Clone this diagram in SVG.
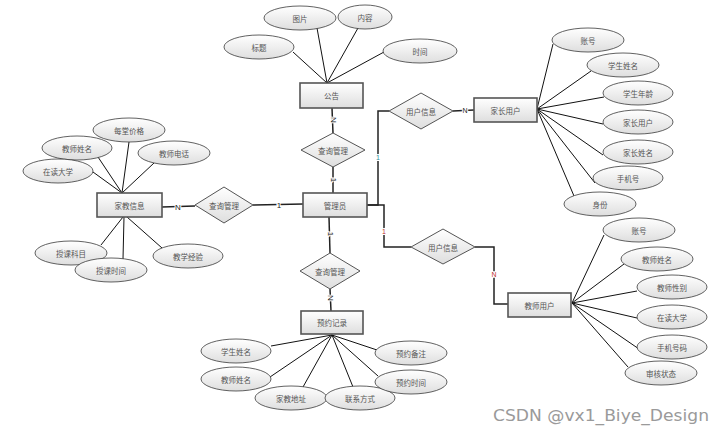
<svg xmlns="http://www.w3.org/2000/svg" width="724" height="440" viewBox="0 0 724 440">
<defs>
<linearGradient id="g" x1="0" y1="0" x2="0" y2="1">
<stop offset="0" stop-color="#ffffff"/>
<stop offset="1" stop-color="#dedede"/>
</linearGradient>
<style>
.e{fill:url(#g);stroke:#3a3a3a;stroke-width:0.8}
.r{fill:url(#g);stroke:#555;stroke-width:1.6}
.d{fill:url(#g);stroke:#555;stroke-width:1}
.t{font-family:"Noto Sans CJK SC","Noto Sans",sans-serif;font-size:7.5px;fill:#555;text-anchor:middle;dominant-baseline:central}
.a{stroke:#111;stroke-width:1;fill:none}
.c{stroke:#222;stroke-width:1.5;fill:none}
.l{font-family:"Liberation Sans",sans-serif;font-size:8px;fill:#222;text-anchor:middle;dominant-baseline:central;stroke:#fff;stroke-width:2;paint-order:stroke}
.wm{font-family:"DejaVu Sans","Liberation Sans",sans-serif;font-size:15px;fill:#9a9a9a}
</style>
</defs>
<rect width="724" height="440" fill="#fff"/>

<g id="connectors">
<!-- 公告 attributes -->
<line class="a" x1="327" y1="83" x2="293" y2="52"/>
<line class="a" x1="327" y1="83" x2="317" y2="28"/>
<line class="a" x1="327" y1="83" x2="358" y2="28"/>
<line class="a" x1="327" y1="83" x2="384" y2="52"/>
<!-- 家教信息 attributes -->
<line class="a" x1="122" y1="193" x2="129" y2="142"/>
<line class="a" x1="122" y1="193" x2="98" y2="157"/>
<line class="a" x1="122" y1="193" x2="154" y2="163"/>
<line class="a" x1="122" y1="193" x2="93" y2="172"/>
<line class="a" x1="123" y1="217" x2="101" y2="245"/>
<line class="a" x1="124" y1="217" x2="123" y2="259"/>
<line class="a" x1="127" y1="217" x2="162" y2="248"/>
<!-- 家长用户 attributes -->
<line class="a" x1="537" y1="109" x2="553" y2="44"/>
<line class="a" x1="537" y1="109" x2="591" y2="71"/>
<line class="a" x1="537" y1="109" x2="604" y2="97"/>
<line class="a" x1="537" y1="109" x2="603" y2="124"/>
<line class="a" x1="537" y1="109" x2="603" y2="155"/>
<line class="a" x1="537" y1="109" x2="595" y2="183"/>
<line class="a" x1="537" y1="109" x2="574" y2="196"/>
<!-- 教师用户 attributes -->
<line class="a" x1="572" y1="303" x2="604" y2="235"/>
<line class="a" x1="572" y1="303" x2="624" y2="264"/>
<line class="a" x1="572" y1="303" x2="637" y2="291"/>
<line class="a" x1="572" y1="303" x2="637" y2="318"/>
<line class="a" x1="572" y1="303" x2="639" y2="349"/>
<line class="a" x1="572" y1="303" x2="628" y2="367"/>
<!-- 预约记录 attributes -->
<line class="a" x1="332" y1="335" x2="271" y2="346"/>
<line class="a" x1="332" y1="335" x2="270" y2="377"/>
<line class="a" x1="332" y1="335" x2="303" y2="387"/>
<line class="a" x1="332" y1="335" x2="353" y2="387"/>
<line class="a" x1="332" y1="335" x2="377" y2="350"/>
<line class="a" x1="332" y1="335" x2="378" y2="376"/>
<!-- relationships -->
<line class="c" x1="332" y1="108" x2="333" y2="133"/>
<line class="c" x1="333" y1="167" x2="333" y2="193"/>
<line class="c" x1="162" y1="207" x2="195" y2="206"/>
<line class="c" x1="253" y1="205" x2="303" y2="204"/>
<line class="c" x1="329" y1="217" x2="330" y2="253"/>
<line class="c" x1="330" y1="289" x2="331" y2="311"/>
<polyline class="c" points="367,205 378,205 378,111 389,111"/>
<line class="c" x1="453" y1="111" x2="474" y2="110"/>
<polyline class="c" points="367,205 384,205 384,247 411,247"/>
<polyline class="c" points="475,247 494,247 494,304 508,304"/>
<!-- cardinality labels -->
<text class="l" transform="translate(333,120) rotate(90)">N</text>
<text class="l" transform="translate(333,180) rotate(90)">1</text>
<text class="l" x="178" y="207">N</text>
<text class="l" x="279" y="205">1</text>
<text class="l" transform="translate(330,234) rotate(90)">1</text>
<text class="l" transform="translate(330,298) rotate(90)">N</text>
<text class="l" x="378" y="157" style="fill:#2a8a9a;font-size:7px">1</text>
<text class="l" x="465" y="110" style="font-size:7px">N</text>
<text class="l" x="384" y="231" style="fill:#c03030;font-size:7px">1</text>
<text class="l" x="494" y="274" style="fill:#c03030;font-size:7px">N</text>
</g>

<g id="gonggao"><rect class="r" x="300" y="83" width="63" height="25"/><text class="t" x="331.5" y="95.5">公告</text></g>
<g id="gg-tupian"><ellipse class="e" cx="300" cy="18" rx="36" ry="12"/><text class="t" x="300" y="18">图片</text></g>
<g id="gg-neirong"><ellipse class="e" cx="365" cy="17" rx="27" ry="12"/><text class="t" x="365" y="17">内容</text></g>
<g id="gg-biaoti"><ellipse class="e" cx="259" cy="47" rx="35" ry="12"/><text class="t" x="259" y="47">标题</text></g>
<g id="gg-shijian"><ellipse class="e" cx="420" cy="51" rx="37" ry="12"/><text class="t" x="420" y="51">时间</text></g>

<g id="rel-gg"><polygon class="d" points="301,150 333,133 365,150 333,167"/><text class="t" x="333" y="150">查询管理</text></g>

<g id="guanliyuan"><rect class="r" x="303" y="193" width="64" height="24"/><text class="t" x="335" y="205">管理员</text></g>

<g id="jiajiaoxinxi"><rect class="r" x="97" y="193" width="65" height="24"/><text class="t" x="129.5" y="205">家教信息</text></g>
<g id="jj-jiage"><ellipse class="e" cx="129" cy="130" rx="36" ry="12"/><text class="t" x="129" y="130">每堂价格</text></g>
<g id="jj-xingming"><ellipse class="e" cx="77" cy="148" rx="35" ry="12"/><text class="t" x="77" y="148">教师姓名</text></g>
<g id="jj-dianhua"><ellipse class="e" cx="174" cy="153" rx="36" ry="12"/><text class="t" x="174" y="153">教师电话</text></g>
<g id="jj-daxue"><ellipse class="e" cx="58" cy="171" rx="35" ry="12"/><text class="t" x="58" y="171">在读大学</text></g>
<g id="jj-kemu"><ellipse class="e" cx="71" cy="253" rx="36" ry="12"/><text class="t" x="71" y="253">授课科目</text></g>
<g id="jj-shijian"><ellipse class="e" cx="111" cy="270" rx="36" ry="12"/><text class="t" x="111" y="270">授课时间</text></g>
<g id="jj-jingyan"><ellipse class="e" cx="188" cy="256" rx="35" ry="12"/><text class="t" x="188" y="256">教学经验</text></g>

<g id="rel-jj"><polygon class="d" points="195,205 224,187 253,205 224,223"/><text class="t" x="224" y="205">查询管理</text></g>

<g id="rel-yy"><polygon class="d" points="300,271 330,253 360,271 330,289"/><text class="t" x="330" y="271">查询管理</text></g>

<g id="yuyuejilu"><rect class="r" x="301" y="311" width="62" height="23"/><text class="t" x="332" y="322.5">预约记录</text></g>
<g id="yy-xuesheng"><ellipse class="e" cx="236" cy="351" rx="35" ry="12"/><text class="t" x="236" y="351">学生姓名</text></g>
<g id="yy-jiaoshi"><ellipse class="e" cx="236" cy="379" rx="35" ry="12"/><text class="t" x="236" y="379">教师姓名</text></g>
<g id="yy-dizhi"><ellipse class="e" cx="291" cy="398" rx="36" ry="12"/><text class="t" x="291" y="398">家教地址</text></g>
<g id="yy-lianxi"><ellipse class="e" cx="360" cy="398" rx="35" ry="12"/><text class="t" x="360" y="398">联系方式</text></g>
<g id="yy-beizhu"><ellipse class="e" cx="411" cy="353" rx="36" ry="12"/><text class="t" x="411" y="353">预约备注</text></g>
<g id="yy-shijian"><ellipse class="e" cx="411" cy="382" rx="36" ry="12"/><text class="t" x="411" y="382">预约时间</text></g>

<g id="rel-jz"><polygon class="d" points="389,111 421,93 453,111 421,129"/><text class="t" x="421" y="111">用户信息</text></g>

<g id="jiazhangyonghu"><rect class="r" x="474" y="98" width="63" height="24"/><text class="t" x="505.5" y="110">家长用户</text></g>
<g id="jz-zhanghao"><ellipse class="e" cx="588" cy="40" rx="36" ry="12"/><text class="t" x="588" y="40">账号</text></g>
<g id="jz-xsxm"><ellipse class="e" cx="623" cy="65" rx="36" ry="12"/><text class="t" x="623" y="65">学生姓名</text></g>
<g id="jz-xsnl"><ellipse class="e" cx="638" cy="93" rx="35" ry="12"/><text class="t" x="638" y="93">学生年龄</text></g>
<g id="jz-jzyh"><ellipse class="e" cx="638" cy="122" rx="35" ry="12"/><text class="t" x="638" y="122">家长用户</text></g>
<g id="jz-jzxm"><ellipse class="e" cx="638" cy="152" rx="35" ry="12"/><text class="t" x="638" y="152">家长姓名</text></g>
<g id="jz-sjh"><ellipse class="e" cx="628" cy="178" rx="35" ry="12"/><text class="t" x="628" y="178">手机号</text></g>
<g id="jz-shenfen"><ellipse class="e" cx="600" cy="204" rx="36" ry="12"/><text class="t" x="600" y="204">身份</text></g>

<g id="rel-js"><polygon class="d" points="411,247 443,229 475,247 443,264"/><text class="t" x="443" y="247">用户信息</text></g>

<g id="jiaoshiyonghu"><rect class="r" x="508" y="293" width="63" height="24"/><text class="t" x="539.5" y="305">教师用户</text></g>
<g id="js-zhanghao"><ellipse class="e" cx="639" cy="230" rx="36" ry="12"/><text class="t" x="639" y="230">账号</text></g>
<g id="js-xingming"><ellipse class="e" cx="657" cy="259" rx="36" ry="12"/><text class="t" x="657" y="259">教师姓名</text></g>
<g id="js-xingbie"><ellipse class="e" cx="672" cy="287" rx="35" ry="12"/><text class="t" x="672" y="287">教师性别</text></g>
<g id="js-daxue"><ellipse class="e" cx="672" cy="317" rx="35" ry="12"/><text class="t" x="672" y="317">在读大学</text></g>
<g id="js-shouji"><ellipse class="e" cx="672" cy="347" rx="35" ry="12"/><text class="t" x="672" y="347">手机号码</text></g>
<g id="js-shenhe"><ellipse class="e" cx="661" cy="373" rx="36" ry="12"/><text class="t" x="661" y="373">审核状态</text></g>

<text class="wm" x="493" y="421" textLength="216" lengthAdjust="spacingAndGlyphs">CSDN @vx1_Biye_Design</text>
</svg>
